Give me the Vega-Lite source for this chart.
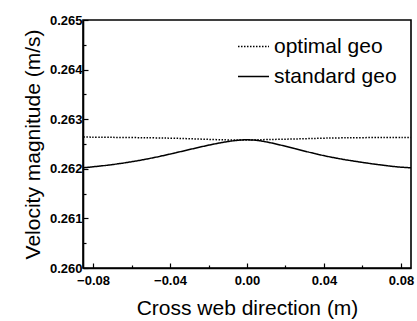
{
  "$schema": "https://vega.github.io/schema/vega-lite/v6.json",
  "width": 328,
  "height": 248,
  "autosize": {"type": "none"},
  "padding": {"left": 83, "top": 20, "right": 6, "bottom": 53},
  "background": "white",
  "config": {
    "view": {"stroke": "black", "strokeWidth": 1.6},
    "font": "Liberation Sans",
    "axis": {
      "domainColor": "black",
      "domainWidth": 1.6,
      "tickColor": "black",
      "tickWidth": 1.2,
      "grid": false,
      "labelColor": "black",
      "titleColor": "black",
      "labelFont": "Liberation Sans",
      "titleFont": "Liberation Sans",
      "labelFontWeight": "bold",
      "labelFontSize": 13,
      "titleFontSize": 21,
      "titleFontWeight": "normal"
    },
    "legend": {
      "labelFont": "Liberation Sans",
      "labelFontSize": 21,
      "labelColor": "black"
    }
  },
  "data": {
    "values": [
      {"x": -0.085, "y": 0.26264, "series": "optimal geo"},
      {"x": -0.06, "y": 0.26263, "series": "optimal geo"},
      {"x": -0.04, "y": 0.26262, "series": "optimal geo"},
      {"x": -0.025, "y": 0.2626, "series": "optimal geo"},
      {"x": -0.01, "y": 0.26258, "series": "optimal geo"},
      {"x": 0.0, "y": 0.26258, "series": "optimal geo"},
      {"x": 0.01, "y": 0.26259, "series": "optimal geo"},
      {"x": 0.025, "y": 0.2626, "series": "optimal geo"},
      {"x": 0.04, "y": 0.26262, "series": "optimal geo"},
      {"x": 0.06, "y": 0.26263, "series": "optimal geo"},
      {"x": 0.085, "y": 0.26263, "series": "optimal geo"},
      {"x": -0.0852, "y": 0.26202, "series": "standard geo"},
      {"x": -0.0697, "y": 0.26208, "series": "standard geo"},
      {"x": -0.052, "y": 0.26219, "series": "standard geo"},
      {"x": -0.035, "y": 0.26234, "series": "standard geo"},
      {"x": -0.0179, "y": 0.2625, "series": "standard geo"},
      {"x": -0.0054, "y": 0.26258, "series": "standard geo"},
      {"x": 0.0013, "y": 0.26259, "series": "standard geo"},
      {"x": 0.0091, "y": 0.26256, "series": "standard geo"},
      {"x": 0.0246, "y": 0.26241, "series": "standard geo"},
      {"x": 0.0417, "y": 0.26224, "series": "standard geo"},
      {"x": 0.0593, "y": 0.26213, "series": "standard geo"},
      {"x": 0.0764, "y": 0.26204, "series": "standard geo"},
      {"x": 0.0852, "y": 0.26202, "series": "standard geo"}
    ]
  },
  "mark": {"type": "line", "color": "black", "interpolate": "basis", "clip": true, "strokeWidth": 1.5},
  "encoding": {
    "x": {
      "field": "x",
      "type": "quantitative",
      "scale": {"domain": [-0.0852, 0.0852], "nice": false, "zero": false},
      "axis": {
        "title": "Cross web direction (m)",
        "values": [-0.08, -0.06, -0.04, -0.02, 0, 0.02, 0.04, 0.06, 0.08],
        "labelExpr": "abs(round(datum.value*100)) % 4 == 0 ? format(datum.value, '.2f') : ''",
        "tickSize": {"condition": {"test": "abs(round(datum.value*100)) % 4 == 0", "value": -5}, "value": -3},
        "labelPadding": 11,
        "titlePadding": 10
      }
    },
    "y": {
      "field": "y",
      "type": "quantitative",
      "scale": {"domain": [0.26, 0.265], "nice": false, "zero": false},
      "axis": {
        "title": "Velocity magnitude (m/s)",
        "values": [0.26, 0.2605, 0.261, 0.2615, 0.262, 0.2625, 0.263, 0.2635, 0.264, 0.2645, 0.265],
        "labelExpr": "round(datum.value*2000) % 2 == 0 ? format(datum.value, '.3f') : ''",
        "tickSize": {"condition": {"test": "round(datum.value*2000) % 2 == 0", "value": -5}, "value": -3},
        "labelPadding": 6,
        "titlePadding": 6
      }
    },
    "strokeDash": {
      "field": "series",
      "type": "nominal",
      "scale": {"domain": ["optimal geo", "standard geo"], "range": [[1.5, 1.5], [1, 0]]},
      "legend": {
        "title": null,
        "orient": "none",
        "legendX": 154,
        "legendY": 10,
        "padding": 0,
        "symbolType": "stroke",
        "symbolSize": 961,
        "symbolStrokeColor": "black",
        "symbolStrokeWidth": 1.4,
        "rowPadding": 3,
        "labelOffset": 4
      }
    }
  }
}
